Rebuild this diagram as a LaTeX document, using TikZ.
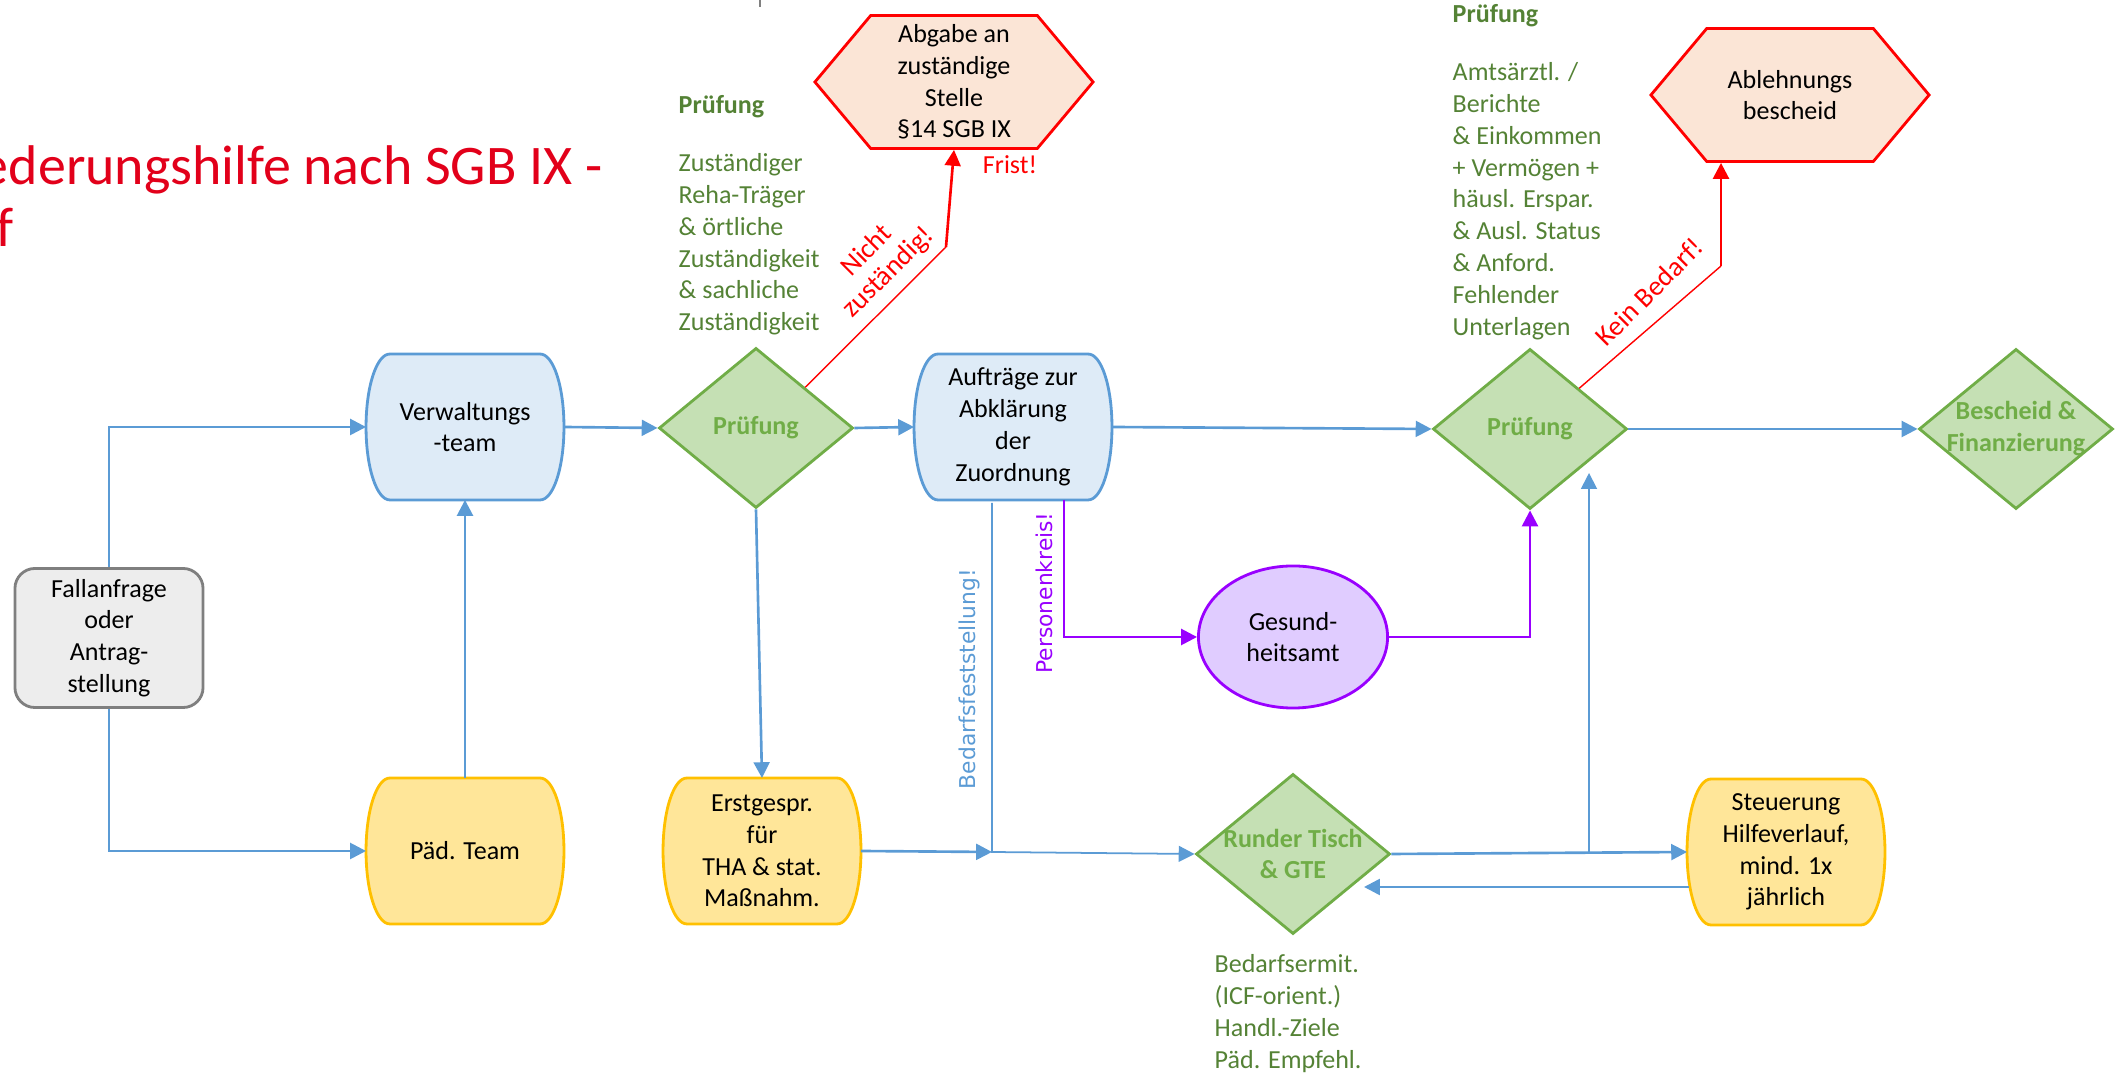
\documentclass[tikz,border=0pt]{standalone}
\usepackage{fontspec}
\setmainfont{Carlito}
\newfontfamily\schildfont{DejaVu Sans}
\usepackage{tikz}
\usetikzlibrary{calc, arrows.meta, positioning, shapes.geometric, shapes.symbols}

\definecolor{linieblau}{RGB}{91,155,213}
\definecolor{fuellblau}{RGB}{222,235,247}
\definecolor{rahmengrau}{RGB}{127,127,127}
\definecolor{fuellgrau}{RGB}{237,237,237}
\definecolor{rahmengelb}{RGB}{255,192,0}
\definecolor{fuellgelb}{RGB}{255,230,153}
\definecolor{rahmengruen}{RGB}{112,173,71}
\definecolor{fuellgruen}{RGB}{197,224,180}
\definecolor{textgruen}{RGB}{84,130,53}
\definecolor{fuellrot}{RGB}{251,229,214}
\definecolor{lila}{RGB}{153,0,255}
\definecolor{fuelllila}{RGB}{224,204,255}
\definecolor{titelrot}{RGB}{226,0,26}

% Kasten mit gewoelbten Seiten
\makeatletter
\newdimen\bauchl \newdimen\bauchr \newdimen\baucho \newdimen\bauchu
\newdimen\bauchd \newdimen\bauchm \newdimen\bauchk
\pgfdeclareshape{bauchbox}{%
  \inheritsavedanchors[from=rectangle]%
  \inheritanchorborder[from=rectangle]%
  \inheritanchor[from=rectangle]{center}%
  \inheritanchor[from=rectangle]{north}%
  \inheritanchor[from=rectangle]{south}%
  \inheritanchor[from=rectangle]{east}%
  \inheritanchor[from=rectangle]{west}%
  \inheritanchor[from=rectangle]{north east}%
  \inheritanchor[from=rectangle]{north west}%
  \inheritanchor[from=rectangle]{south east}%
  \inheritanchor[from=rectangle]{south west}%
  \backgroundpath{%
    \southwest \bauchl=\pgf@x \bauchu=\pgf@y
    \northeast \bauchr=\pgf@x \baucho=\pgf@y
    \bauchd=\bauchr \advance\bauchd by -\bauchl \bauchd=0.12\bauchd
    \bauchm=\baucho \advance\bauchm by \bauchu \bauchm=0.5\bauchm
    \bauchk=\baucho \advance\bauchk by -\bauchu \bauchk=0.28\bauchk
    \pgfpathmoveto{\pgfqpoint{\dimexpr\bauchl+\bauchd\relax}{\baucho}}%
    \pgfpathlineto{\pgfqpoint{\dimexpr\bauchr-\bauchd\relax}{\baucho}}%
    \pgfpathcurveto{\pgfqpoint{\dimexpr\bauchr-0.45\bauchd\relax}{\baucho}}%
      {\pgfqpoint{\bauchr}{\dimexpr\bauchm+\bauchk\relax}}{\pgfqpoint{\bauchr}{\bauchm}}%
    \pgfpathcurveto{\pgfqpoint{\bauchr}{\dimexpr\bauchm-\bauchk\relax}}%
      {\pgfqpoint{\dimexpr\bauchr-0.45\bauchd\relax}{\bauchu}}{\pgfqpoint{\dimexpr\bauchr-\bauchd\relax}{\bauchu}}%
    \pgfpathlineto{\pgfqpoint{\dimexpr\bauchl+\bauchd\relax}{\bauchu}}%
    \pgfpathcurveto{\pgfqpoint{\dimexpr\bauchl+0.45\bauchd\relax}{\bauchu}}%
      {\pgfqpoint{\bauchl}{\dimexpr\bauchm-\bauchk\relax}}{\pgfqpoint{\bauchl}{\bauchm}}%
    \pgfpathcurveto{\pgfqpoint{\bauchl}{\dimexpr\bauchm+\bauchk\relax}}%
      {\pgfqpoint{\dimexpr\bauchl+0.45\bauchd\relax}{\baucho}}{\pgfqpoint{\dimexpr\bauchl+\bauchd\relax}{\baucho}}%
    \pgfpathclose
  }%
}
\makeatother

\begin{document}
\begin{tikzpicture}[x=0.01cm,y=-0.01cm,
    every node/.style={font=\fontsize{7.4}{9.05}\selectfont, align=center, inner sep=0pt},
    titel/.style={font=\fontsize{15.9}{18}\selectfont, text=titelrot},
    anfrage/.style={rectangle, rounded corners=0.2cm, draw=rahmengrau, fill=fuellgrau, line width=0.8pt, minimum width=1.88cm, minimum height=1.39cm},
    weich/.style={bauchbox, line width=0.8pt, minimum width=1.95cm, minimum height=1.43cm},
    blaubox/.style={weich, draw=linieblau, fill=fuellblau},
    gelbbox/.style={weich, draw=rahmengelb, fill=fuellgelb},
    raute/.style={diamond, draw=rahmengruen, fill=fuellgruen, line width=0.8pt, minimum width=1.94cm, minimum height=1.6cm},
    rautetext/.style={font=\fontsize{7.4}{9.05}\selectfont\bfseries, text=rahmengruen},
    stopp/.style={signal, signal to=west and east, signal pointer angle=100, draw=red, fill=fuellrot, line width=0.8pt, minimum width=2.78cm, minimum height=1.33cm},
    amt/.style={ellipse, draw=lila, fill=fuelllila, line width=0.8pt, minimum width=1.89cm, minimum height=1.42cm},
    gruentext/.style={text=textgruen, align=left},
    pfeil/.style={-{Triangle[length=4.5pt,width=4.5pt]}, draw=linieblau, line width=0.75pt},
    lilapfeil/.style={pfeil, draw=lila},
    rotpfeil/.style={pfeil, draw=red},
    blaulabel/.style={font=\schildfont\fontsize{6.2}{7.4}\selectfont, text=linieblau},
    lilalabel/.style={font=\schildfont\fontsize{6.2}{7.4}\selectfont, text=lila},
    rotlabel/.style={font=\fontsize{7.9}{8.6}\selectfont, text=red}
  ]
  \useasboundingbox (0,0) rectangle (2118,1074);
  \clip (0,0) rectangle (2118,1074);
  %\draw[help lines] (0,0) grid[step=100] (2118,1074);

  \node[titel, anchor=base east] (titel) at (603,185) {ederungshilfe nach SGB IX -};
  \node[titel, anchor=base east] (titelf) at (14,247) {f};
  \draw[gray, line width=0.5pt] (760,0) -- (760,7);

  % Kaesten
  \node[anfrage] (fall) at (109,638) {Fallanfrage\\oder\\Antrag-\\stellung};
  \node[blaubox] (verw) at (465,427) {Verwaltungs\\-team};
  \node[gelbbox] (paed) at (465,851) {Päd. Team};
  \node[raute, label={[rautetext]center:Prüfung}] (pruef1) at (756,428) {};
  \node[blaubox] (auftr) at (1013,427) {Aufträge zur\\Abklärung\\der\\Zuordnung};
  \node[gelbbox] (erst) at (762,851) {Erstgespr.\\für\\THA \& stat.\\Maßnahm.};
  \node[stopp] (abgabe) at (954,82) {Abgabe an\\zuständige\\Stelle\\§14 SGB IX};
  \node[amt] (gesund) at (1293,637) {Gesund-\\heitsamt};
  \node[raute, label={[rautetext]center:Runder Tisch\\\& GTE}] (runder) at (1293,854) {};
  \node[raute, label={[rautetext]center:Prüfung}] (pruef2) at (1530,429) {};
  \node[stopp] (ablehn) at (1790,95) {Ablehnungs\\bescheid};
  \node[gelbbox] (steuer) at (1786,852) {Steuerung\\Hilfeverlauf,\\mind. 1x\\jährlich};
  \node[raute, label={[rautetext]center:Bescheid \&\\Finanzierung}] (bescheid) at (2016,429) {};

  % Texte
  \node[gruentext, anchor=north west] (info1) at (678,95) {\textbf{Prüfung}\\[7.4pt]Zuständiger\\Reha-Träger\\\& örtliche\\Zuständigkeit\\\& sachliche\\Zuständigkeit};
  \node[gruentext, anchor=north west] (info2) at (1452,4) {\textbf{Prüfung}\\[7.4pt]Amtsärztl. /\\Berichte\\\& Einkommen\\+ Vermögen +\\häusl. Erspar.\\\& Ausl. Status\\\& Anford.\\Fehlender\\Unterlagen};
  \node[gruentext, anchor=north west] (info3) at (1214,954) {Bedarfsermit.\\(ICF-orient.)\\Handl.-Ziele\\Päd. Empfehl.};

  % Pfeile
  \draw[pfeil] (fall.north) |- (verw.west);
  \draw[pfeil] (fall.south) |- (paed.west);
  \draw[pfeil] (paed.north) -- (verw.south);
  \draw[pfeil] (verw.east) -- (pruef1.west);
  \draw[pfeil] (pruef1.east) -- (auftr.west);
  \draw[pfeil] (pruef1.south) -- (erst.north);
  \coordinate (bedoben) at (992,503);
  \coordinate (bedknick) at (992,852);
  \draw[pfeil] (erst.east) -- (bedknick);
  \draw[pfeil, line width=0.5pt] (bedoben) -- (bedknick) -- (runder.west);
  \node[blaulabel, rotate=90] (bedlabel) at (969,679) {Bedarfsfeststellung!};
  \draw[pfeil] (auftr.east) -- (pruef2.west);
  \coordinate (pkoben) at (1064,500);
  \draw[lilapfeil] (pkoben) |- (gesund.west);
  \node[lilalabel, rotate=90] (pklabel) at (1044,593) {Personenkreis!};
  \draw[lilapfeil] (gesund.east) -| (pruef2.south);
  \draw[pfeil] (pruef2.east) -- (bescheid.west);
  \draw[pfeil] (runder.east) -- (steuer.west);
  \coordinate (rtknick) at (1589,852);
  \coordinate (rtoben) at (1589,473);
  \draw[pfeil, line width=0.5pt] (rtknick) -- (rtoben);
  \coordinate (rueckstart) at (1689,887);
  \coordinate (rueckende) at (1364,887);
  \draw[pfeil] (rueckstart) -- (rueckende);

  \coordinate (knick1) at (946,247);
  \draw[red, line width=0.4pt] (pruef1.north east) -- (knick1);
  \draw[rotpfeil] (knick1) -- (abgabe.south);
  \node[rotlabel, rotate=45] (nichtlabel) at (878,262) {Nicht\\zuständig!};
  \node[text=red] (frist) at (1010,165) {Frist!};
  \coordinate (knick2) at (1721,266);
  \draw[red, line width=0.4pt] (pruef2.north east) -- (knick2);
  \draw[rotpfeil] (knick2) -- (knick2 |- ablehn.south);
  \node[rotlabel, rotate=45] (keinlabel) at (1649,292) {Kein Bedarf!};
\end{tikzpicture}
\end{document}
